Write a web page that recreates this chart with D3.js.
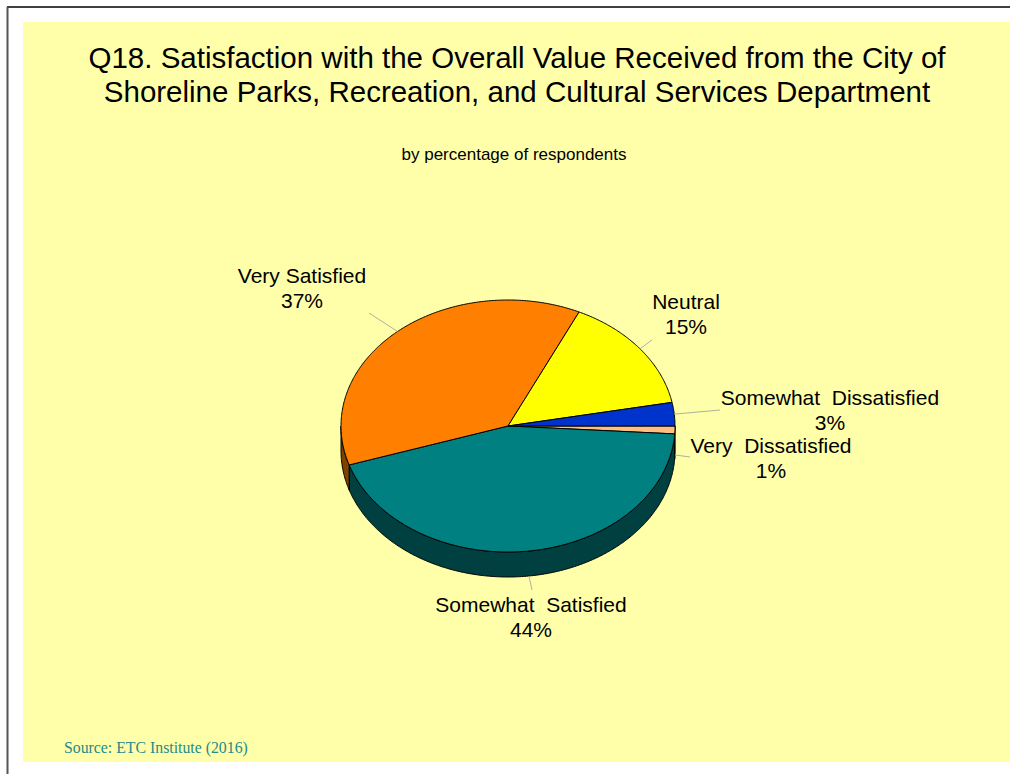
<!DOCTYPE html>
<html>
<head>
<meta charset="utf-8">
<script src="https://cdn.jsdelivr.net/npm/d3@7"></script>
<style>
  body { margin: 0; background: white; }
  svg { display: block; }
</style>
</head>
<body>
<script>
// slice order runs clockwise from 3 o'clock, as in the original
const categories = ["Very Dissatisfied", "Somewhat Satisfied", "Very Satisfied", "Neutral", "Somewhat Dissatisfied"];
const percents = [1, 44, 37, 15, 3];
const labelLines = [["Very  Dissatisfied", "1%"], ["Somewhat  Satisfied", "44%"], ["Very Satisfied", "37%"], ["Neutral", "15%"], ["Somewhat  Dissatisfied", "3%"]];
const titleLines = ["Q18. Satisfaction with the Overall Value Received from the City of",
                    "Shoreline Parks, Recreation, and Cultural Services Department"];

// layout, kept apart from the data
const topColors = {"Very Dissatisfied": "#FFBF80", "Somewhat Satisfied": "#008080", "Very Satisfied": "#FF8000", "Neutral": "#FFFF00", "Somewhat Dissatisfied": "#0033CC"};
const sideColors = {"Very Dissatisfied": "#80603F", "Somewhat Satisfied": "#004040", "Very Satisfied": "#804000", "Neutral": "#808000", "Somewhat Dissatisfied": "#001A66"};
const labelPos = {"Very Dissatisfied": [771, 453], "Somewhat Satisfied": [531, 612], "Very Satisfied": [302, 283], "Neutral": [686, 309], "Somewhat Dissatisfied": [830, 405]};
const leaderEnd = {"Very Dissatisfied": [690, 457], "Somewhat Satisfied": [532, 590], "Very Satisfied": [369, 313], "Neutral": [652, 340], "Somewhat Dissatisfied": [720, 410]};

const W = 1010, H = 774;
const cx = 508, cy = 426, rx = 167, ry = 126, depth = 25;

let svg = d3.select("body").append("svg").attr("width", W).attr("height", H);

// frame
svg.append("rect").attr("x", 23).attr("y", 22).attr("width", W - 23).attr("height", 740).attr("fill", "#FFFFAA");
svg.append("line").attr("x1", 7).attr("y1", 7).attr("x2", W).attr("y2", 7).attr("stroke", "black").attr("stroke-width", 1.5);
svg.append("line").attr("x1", 7.5).attr("y1", 7).attr("x2", 7.5).attr("y2", H).attr("stroke", "#555").attr("stroke-width", 2);

svg.selectAll(".title").data(titleLines).enter().append("text")
    .attr("class", "title")
    .attr("x", 517).attr("y", (d, i) => 68 + i * 34)
    .attr("text-anchor", "middle")
    .attr("font-family", "Liberation Sans, Arial, sans-serif")
    .attr("font-size", 29.5)
    .text(d => d);

svg.append("text").attr("x", 514).attr("y", 160).attr("text-anchor", "middle")
    .attr("font-family", "Liberation Sans, Arial, sans-serif").attr("font-size", 17)
    .text("by percentage of respondents");

svg.append("text").attr("x", 64).attr("y", 753)
    .attr("font-family", "Liberation Serif, Times New Roman, serif").attr("font-size", 15.8)
    .attr("fill", "#268A8A")
    .text("Source: ETC Institute (2016)");

// d3 pie angles are clockwise from 12 o'clock; start at 3 o'clock
let pie = d3.pie().sort(null).value(d => d.value).startAngle(Math.PI / 2).endAngle(Math.PI / 2 + 2 * Math.PI);
let slices = pie(categories.map((c, i) => ({name: c, value: percents[i], lines: labelLines[i]})));

let px = a => cx + rx * Math.sin(a);
let py = a => cy - ry * Math.cos(a);

function arcPoints(a0, a1, dy) {
    let n = Math.max(2, Math.ceil((a1 - a0) / 0.01));
    return d3.range(n + 1).map(k => {
        let a = a0 + (a1 - a0) * k / n;
        return [px(a), py(a) + dy];
    });
}

let line = d3.line();

// side walls, only the front half (angles between pi/2 and 3pi/2) shows
let front0 = Math.PI / 2, front1 = 3 * Math.PI / 2;
slices.forEach(s => {
    let a0 = Math.max(s.startAngle, front0), a1 = Math.min(s.endAngle, front1);
    if (a1 <= a0) return;
    let pts = arcPoints(a0, a1, 0).concat(arcPoints(a0, a1, depth).reverse());
    svg.append("path").attr("d", line(pts) + "Z")
        .attr("fill", sideColors[s.data.name])
        .attr("stroke", "black").attr("stroke-width", 1).attr("stroke-linejoin", "round");
});

// top faces
svg.selectAll(".slice").data(slices).enter().append("path")
    .attr("class", "slice")
    .attr("d", s => line([[cx, cy]].concat(arcPoints(s.startAngle, s.endAngle, 0))) + "Z")
    .attr("fill", s => topColors[s.data.name])
    .attr("stroke", "black").attr("stroke-width", 1).attr("stroke-linejoin", "round");

// leader lines and labels
slices.forEach(s => {
    let mid = (s.startAngle + s.endAngle) / 2;
    let inFront = mid > front0 && mid < front1;
    let start = [px(mid), py(mid) + (inFront ? depth : 0)];
    svg.append("line")
        .attr("x1", start[0]).attr("y1", start[1])
        .attr("x2", leaderEnd[s.data.name][0]).attr("y2", leaderEnd[s.data.name][1])
        .attr("stroke", "#B0B0A0").attr("stroke-width", 1);
    let p = labelPos[s.data.name];
    svg.append("text")
        .attr("x", p[0]).attr("y", p[1])
        .attr("text-anchor", "middle")
        .attr("font-family", "Liberation Sans, Arial, sans-serif")
        .attr("font-size", 21)
        .attr("xml:space", "preserve")
        .style("white-space", "pre")
        .selectAll("tspan").data(s.data.lines).enter().append("tspan")
        .attr("x", p[0]).attr("dy", (d, i) => i === 0 ? 0 : 25)
        .text(d => d);
});
</script>
</body>
</html>
